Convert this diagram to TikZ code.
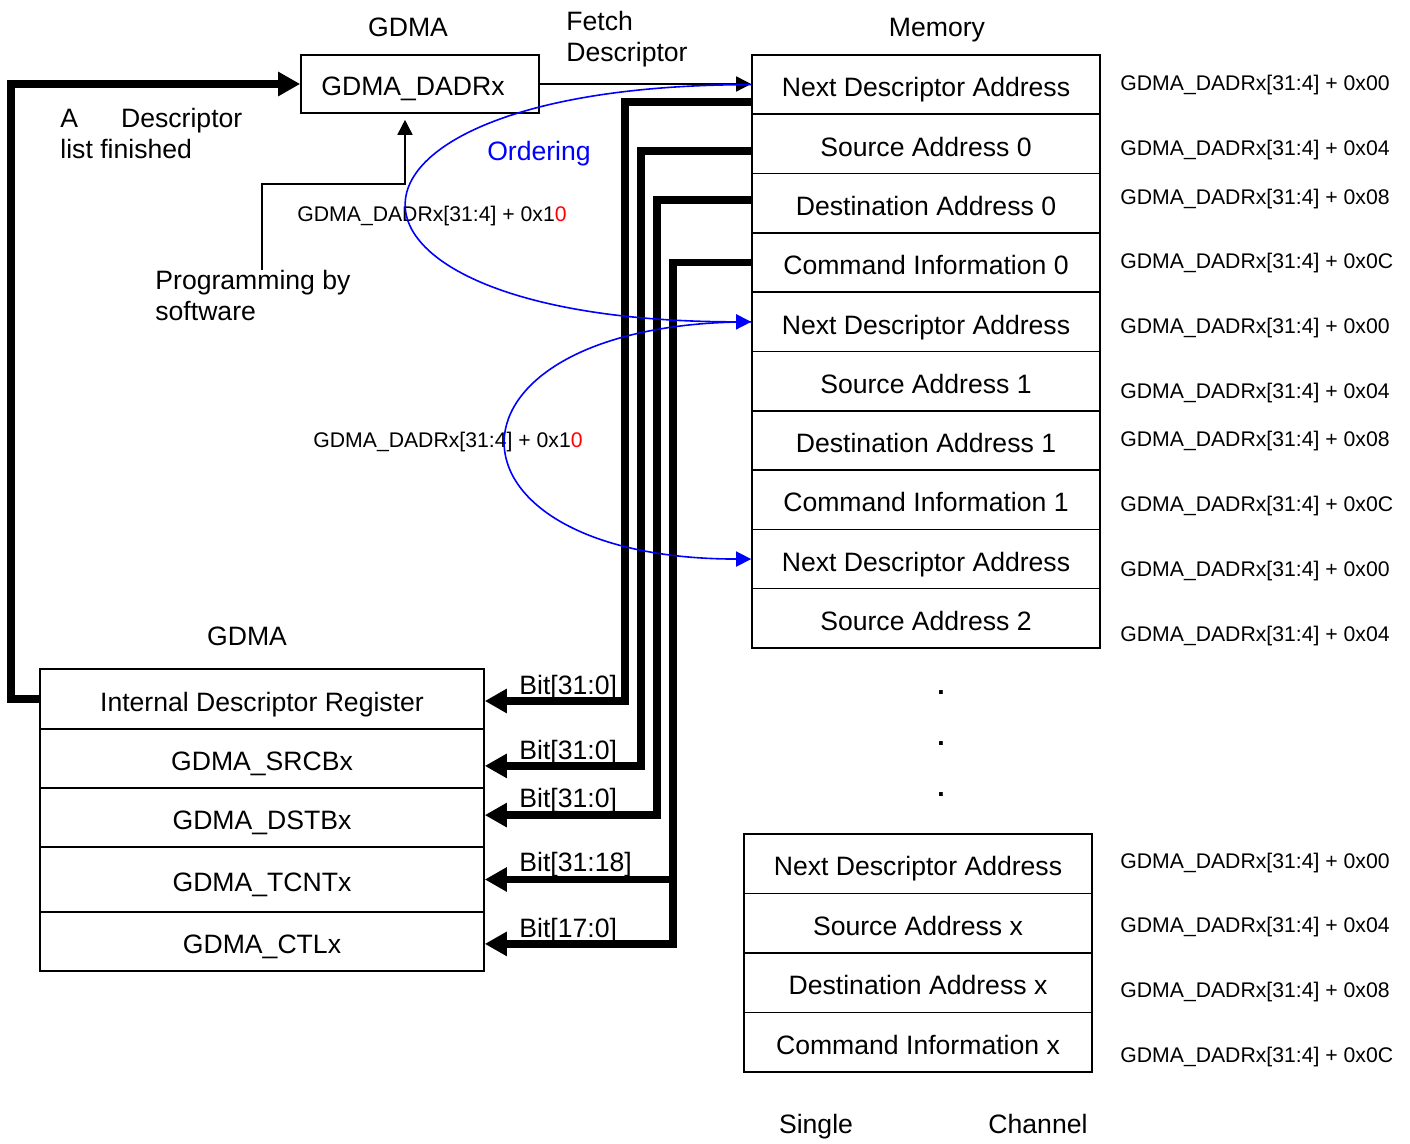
\documentclass[tikz,border=0pt]{standalone}
\usepackage{fontspec}
\setmainfont{Liberation Sans}
\usetikzlibrary{arrows.meta}

\newcommand{\bigfont}{\fontsize{13.3}{15.5}\selectfont}
\newcommand{\smallfont}{\fontsize{10.6}{13}\selectfont}

\tikzset{
MemRow/.style={draw=black, fill=white, rectangle, inner sep=0pt, text height=12.2pt, text depth=0pt,
        minimum width=174pt, minimum height=29.65pt, line width=0.8pt, font=\bigfont},
RegRow/.style={draw=black, fill=white, rectangle, inner sep=0pt, text height=12.2pt, text depth=0pt,
        minimum width=222pt, line width=0.8pt, font=\bigfont},
BusLine/.style={arrows={-Triangle[length=11pt,width=11.5pt]},draw=black,line width=3.8pt},
ThinLine/.style={arrows={-Triangle[length=7.5pt,width=7.5pt]},draw=black,line width=0.8pt},
OrderLine/.style={arrows={-Triangle[length=7.5pt,width=7.5pt]},draw=blue,line width=0.8pt},
DiagramTitle/.style={font=\bigfont, inner sep=0pt, text height=9.6pt, text depth=0pt},
AddrLabel/.style={font=\smallfont, anchor=west, inner sep=0pt, yshift=-1.5pt},
}

\begin{document}
\begin{tikzpicture}[x=0.5pt,y=-0.5pt]
	\path[use as bounding box, fill=white] (0,0) rectangle (1410,1144);

	% memory, single channel
	\foreach \txt [count=\i] in {Next Descriptor Address, Source Address 0, Destination Address 0,
		Command Information 0, Next Descriptor Address, Source Address 1, Destination Address 1,
		Command Information 1, Next Descriptor Address, Source Address 2}
		\node[MemRow] (M\i) at (926, 25.35+59.3*\i) {\txt};
	\foreach \txt [count=\i] in {Next Descriptor Address, Source Address x,
		Destination Address x, Command Information x}
		\node[MemRow] (X\i) at (918, 804.25+59.5*\i) {\txt};
	\foreach \y in {693,744,795}
		\node[font=\bigfont\bfseries, inner sep=0pt] (Dot\y) at (941,\y) {.};

	\foreach \y/\off in {82/00,147/04,196/08,260/0C,325/00,390/04,438/08,503/0C,568/00,633/04,
		860/00,924/04,989/08,1054/0C}
		\node[AddrLabel] (A\y) at (1120,\y) {GDMA\_DADRx[31:4] + 0x\off};

	% GDMA registers
	\node[draw=black, line width=0.8pt, minimum width=119pt, minimum height=29pt,
		inner sep=0pt, font=\bigfont, text height=12pt, text depth=0pt] (DADR) at (420,84)
		{GDMA\_DADRx\kern7pt};
	\foreach \txt/\top/\h [count=\i] in {Internal Descriptor Register/669/60, GDMA\_SRCBx/729/59,
		GDMA\_DSTBx/788/59, GDMA\_TCNTx/847/65, GDMA\_CTLx/912/59}
		\node[RegRow, minimum height=\h*0.5pt] (R\i) at (262, \top+\h/2) {\txt};

	\node[DiagramTitle] (TopGDMA) at (408,27) {GDMA};
	\node[DiagramTitle] (LowGDMA) at (247,636) {GDMA};
	\node[DiagramTitle] (Memory) at (937,27) {Memory};
	\node[font=\bigfont, inner sep=0pt, anchor=west, align=left] (Fetch) at (566,39) {Fetch\\Descriptor};
	\node[font=\bigfont, inner sep=0pt, anchor=north west, align=left] (Finished) at (60,108)
		{A\hspace{21.5pt}Descriptor\\list finished};
	\node[font=\bigfont, inner sep=0pt, anchor=north west, align=left] (Prog) at (155,270)
		{Programming by\\software};
	\node[DiagramTitle, text=blue] (Ordering) at (539,151) {Ordering};
	\node[DiagramTitle] (Single) at (816,1124) {Single};
	\node[DiagramTitle] (Channel) at (1038,1124) {Channel};

	\node[AddrLabel] (Step1) at (297,213) {GDMA\_DADRx[31:4] + 0x1\textcolor{red}{0}};
	\node[AddrLabel] (Step2) at (313,439) {GDMA\_DADRx[31:4] + 0x1\textcolor{red}{0}};

	% buses into the descriptor registers
	\draw[BusLine] ([yshift=-8.7pt]M1.west) -- ++(-126,0) |- ([yshift=-1pt]R1.east);
	\draw[BusLine] ([yshift=-3.5pt]M2.west) -- ++(-110,0) |- ([yshift=-3.7pt]R2.east);
	\draw[BusLine] ([yshift=1.6pt]M3.west) -- ++(-94,0) |- ([yshift=1.2pt]R3.east);
	\draw[BusLine] (M4.west) -- ++(-78,0) coordinate (Drop) |- ([yshift=-1.2pt]R5.east);
	\draw[BusLine] (Drop |- R4.east) -- (R4.east);
	\foreach \y/\bits in {685/31:0,750/31:0,798/31:0,862/31:18,928/17:0}
		\node[DiagramTitle, anchor=west] (Bit\y) at (519,\y) {Bit[\bits]};

	\draw[BusLine] (R1.west) -- ++(-28,0) |- (DADR.west);
	\draw[ThinLine] (DADR.east) -- (DADR.east -| M1.west);
	\draw[ThinLine, shorten >=3pt] ([xshift=4.5pt]Prog.north) -- ++(0,-86)
		-| ([xshift=-7.5pt]DADR.south);

	% ordering of descriptors
	\draw[OrderLine] (M1.west) .. controls +(-459,0) and +(-459,0) .. (M5.west);
	\draw[OrderLine] (M5.west) .. controls +(-327,0) and +(-327,0) .. (M9.west);
\end{tikzpicture}
\end{document}
